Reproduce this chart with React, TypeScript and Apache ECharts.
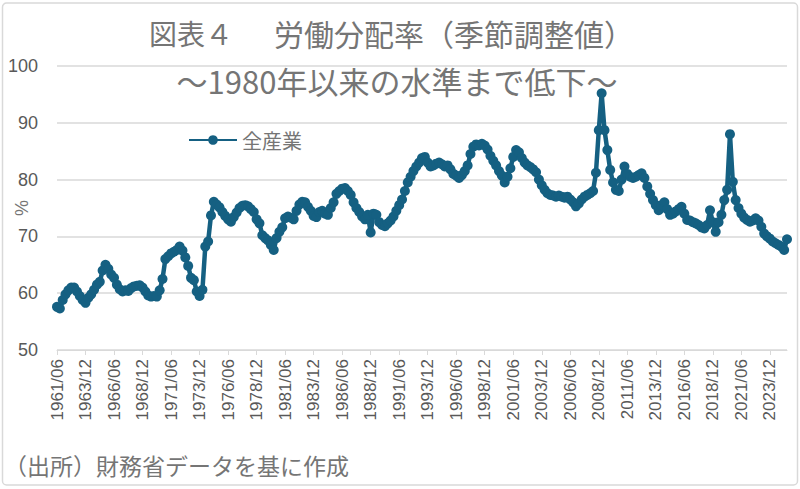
import React, { useEffect, useRef } from "react";
import * as echarts from "echarts";

const TITLE_A = "図表４";
const TITLE_B = "労働分配率（季節調整値）";
const SUBTITLE = "～1980年以来の水準まで低下～";
const SOURCE = "（出所）財務省データを基に作成";
const SERIES_NAME = "全産業";
const Y_UNIT = "%";
const Y_TICKS = [50, 60, 70, 80, 90, 100];

// quarterly, starting 1961/06
const START_YEAR = 1961;
const START_MONTH_INDEX = 1; // 0:03, 1:06, 2:09, 3:12
const MONTHS = ["03", "06", "09", "12"];

const values1961_1987 = [
  57.6, 57.3, 58.8, 59.8, 60.5, 61.0, 61.0, 60.3, 59.5, 58.8,
  58.3, 59.2, 59.8, 60.6, 61.5, 62.0, 64.0, 65.0, 64.3, 63.3,
  62.7, 61.5, 60.7, 60.3, 60.5, 60.4, 60.9, 61.2, 61.3, 61.4,
  61.0, 60.3, 59.6, 59.4, 59.5, 59.4, 60.5, 62.5, 66.0, 66.5,
  67.0, 67.3, 67.6, 68.2, 67.5, 66.3, 64.8, 62.7, 62.3, 60.3,
  59.5, 60.6, 68.2, 69.1, 73.7, 76.1, 75.6, 75.1, 74.3, 73.6,
  73.0, 72.6, 73.4, 74.2, 75.0, 75.4, 75.5, 75.3, 74.8, 74.3,
  73.0, 72.3, 70.2, 69.7, 69.3, 68.5, 67.6, 69.7, 70.8, 71.6,
  73.2, 73.5, 73.3, 73.0, 74.5, 75.6, 76.1, 76.0, 75.2, 74.5,
  73.6, 73.4, 74.3, 74.5, 74.0, 73.8, 75.0, 76.0, 77.5, 78.0,
  78.4, 78.5, 78.0, 77.3, 76.0, 75.0, 74.3,
];

const values1988_2013 = [
  73.5, 73.0, 73.8, 70.7, 74.0, 73.8, 72.5, 72.0, 71.8, 72.3,
  72.8, 73.5, 74.5, 75.5, 76.5, 78.0, 79.5, 80.5, 81.5, 82.3,
  83.0, 83.8, 84.0, 83.0, 82.3, 82.5, 82.8, 83.0, 82.7, 82.3,
  82.5, 81.8, 81.0, 80.7, 80.3, 80.8, 81.5, 82.5, 84.5, 85.8,
  86.2, 86.0, 86.3, 86.0, 85.3, 84.2, 83.3, 82.5, 81.5, 80.7,
  79.5, 80.5, 82.0, 84.0, 85.2, 84.8, 83.8, 83.0, 82.5, 82.2,
  81.8, 81.3, 80.0, 79.0, 78.2, 77.6, 77.3, 77.2, 77.0, 77.2,
  77.0, 76.8, 77.0, 76.5, 76.0, 75.3, 75.8, 76.5, 77.0, 77.3,
  77.6, 78.0, 81.2, 88.7, 95.2, 88.7, 85.2, 81.7, 79.5, 78.2,
  78.0, 80.0, 82.3, 81.0, 80.5, 80.3, 80.5, 80.8, 81.1, 80.3,
  78.8, 77.5, 76.4, 75.5, 74.6,
];

const values2014_2025 = [
  75.5, 76.0, 74.8, 73.8, 74.0, 74.4, 74.8, 75.2, 74.0, 72.9,
  72.8, 72.5, 72.3, 72.0, 71.6, 71.4, 72.0, 74.6, 72.5, 70.8,
  72.5, 73.8, 76.4, 78.2, 88.0, 79.6, 76.4, 75.0, 74.0, 73.3,
  72.9, 72.6, 72.8, 73.2, 72.8, 71.7, 70.5, 70.0, 69.6, 69.1,
  68.8, 68.5, 68.2, 67.6, 69.5,
];

const VALUES = [...values1961_1987, ...values1988_2013, ...values2014_2025];

const CATEGORIES: string[] = [];
for (let k = 0; k < VALUES.length; k++) {
  const q = START_MONTH_INDEX + k;
  CATEGORIES.push(`${START_YEAR + Math.floor(q / 4)}/${MONTHS[q % 4]}`);
}

const LINE_COLOR = "#156082";
const TEXT_GRAY = "#757575";
const AXIS_GRAY = "#595959";
const JP_FONT = "'Noto Sans CJK JP', 'Noto Sans', sans-serif";
const LATIN_FONT = "'Liberation Sans', Arial, sans-serif";

export default function App() {
  const ref = useRef<HTMLDivElement>(null);
  useEffect(() => {
    if (!ref.current) return;
    const chart = echarts.init(ref.current, undefined, { renderer: "svg" });
    chart.setOption({
      animation: false,
      backgroundColor: "#ffffff",
      grid: {
        left: 57,
        right: 13,
        top: 66,
        bottom: 139,
        containLabel: false,
        outerBoundsMode: "none",
      },
      legend: {
        data: [SERIES_NAME],
        left: 183,
        top: 125,
        itemWidth: 48,
        itemHeight: 12,
        itemGap: 4,
        textStyle: { color: TEXT_GRAY, fontSize: 20, fontFamily: JP_FONT },
      },
      xAxis: {
        type: "category",
        data: CATEGORIES,
        boundaryGap: false,
        axisLine: { lineStyle: { color: "#d9d9d9", width: 1 } },
        axisTick: { interval: 9, length: 5, lineStyle: { color: "#d9d9d9" } },
        axisLabel: {
          interval: 9,
          rotate: 90,
          margin: 9,
          color: AXIS_GRAY,
          fontSize: 17,
          fontFamily: LATIN_FONT,
        },
        splitLine: { show: false },
      },
      yAxis: {
        type: "value",
        min: 50,
        max: 100,
        interval: 10,
        axisLine: { show: false },
        axisTick: { show: false },
        axisLabel: {
          margin: 19,
          color: AXIS_GRAY,
          fontSize: 18,
          fontFamily: LATIN_FONT,
          formatter: (v: number) => (Y_TICKS.includes(v) ? String(v) : ""),
        },
        splitLine: { lineStyle: { color: "#d9d9d9", width: 1.5 } },
      },
      series: [
        {
          name: SERIES_NAME,
          type: "line",
          data: VALUES,
          symbol: "circle",
          symbolSize: 10,
          showAllSymbol: true,
          itemStyle: { color: LINE_COLOR },
          lineStyle: { color: LINE_COLOR, width: 4.5 },
          z: 3,
        },
      ],
      graphic: [
        {
          type: "rect",
          shape: { x: 2.5, y: 3, width: 795, height: 482, r: 4 },
          style: { fill: "none", stroke: "#d9d9d9", lineWidth: 1.5 },
          silent: true,
          z: -1,
        },
        {
          type: "text",
          x: 22,
          y: 208,
          rotation: Math.PI / 2,
          style: {
            text: Y_UNIT,
            fill: TEXT_GRAY,
            font: `18px ${LATIN_FONT}`,
            textAlign: "center",
            textVerticalAlign: "middle",
          },
        },
        {
          type: "text",
          x: 149,
          y: 33,
          style: {
            text: TITLE_A,
            fill: TEXT_GRAY,
            font: `28px ${JP_FONT}`,
            textAlign: "left",
            textVerticalAlign: "middle",
          },
        },
        {
          type: "text",
          x: 274,
          y: 33,
          style: {
            text: TITLE_B,
            fill: TEXT_GRAY,
            font: `30px ${JP_FONT}`,
            textAlign: "left",
            textVerticalAlign: "middle",
          },
        },
        {
          type: "text",
          x: 397,
          y: 80,
          style: {
            text: SUBTITLE,
            fill: TEXT_GRAY,
            font: `31px ${JP_FONT}`,
            textAlign: "center",
            textVerticalAlign: "middle",
          },
          z: 1,
        },
        {
          type: "text",
          x: 4,
          y: 465,
          style: {
            text: SOURCE,
            fill: TEXT_GRAY,
            font: `23px ${JP_FONT}`,
            textAlign: "left",
            textVerticalAlign: "middle",
          },
        },
      ],
    });
    return () => chart.dispose();
  }, []);
  return (
    <div
      ref={ref}
      style={{ position: "absolute", left: 0, top: 0, width: 800, height: 489 }}
    />
  );
}
